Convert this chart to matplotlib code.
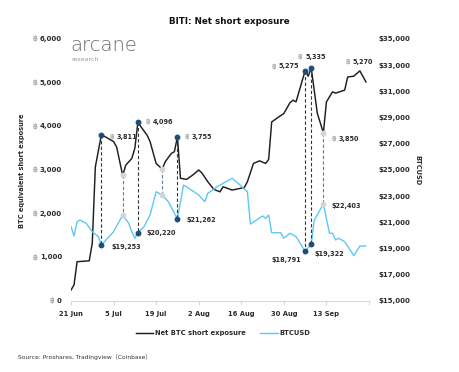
import matplotlib
matplotlib.use('Agg')
import matplotlib.pyplot as plt

# Net BTC short exposure (days after 21 Jun 2022, BTC)
short_days = [0, 1, 2, 6, 7, 8, 10, 14, 15, 17, 18, 20, 21, 22, 23, 25, 26, 28, 30, 31,
              33, 34, 35, 36, 38, 40, 42, 43, 45, 47, 49, 50, 53, 57, 58, 60, 62, 64, 65, 66,
              68, 70, 72, 73, 74, 77, 78, 79, 81, 83, 84, 86, 87, 90, 91, 93, 95, 97]
short_btc = [250, 370, 900, 920, 1330, 3070, 3811, 3650, 3530, 2875, 3110, 3265, 3500, 4096,
             3990, 3800, 3650, 3150, 3020, 3190, 3380, 3420, 3755, 2810, 2785, 2883, 3000, 2936,
             2730, 2556, 2500, 2616, 2540, 2600, 2730, 3150, 3210, 3150, 3242, 4100, 4200, 4295,
             4540, 4600, 4560, 5275, 5149, 5335, 4300, 3850, 4560, 4790, 4760, 4830, 5130, 5149,
             5270, 5016]

# BTCUSD price (same day offsets)
btc_days = [0, 1, 2, 3, 5, 7, 9, 10, 12, 14, 17, 19, 20, 21, 22, 24, 26, 28, 30, 32, 35, 37,
            38, 42, 44, 45, 48, 50, 53, 55, 58, 59, 61, 63, 64, 65, 66, 69, 70, 72, 74, 77, 79,
            80, 83, 85, 86, 87, 88, 90, 93, 95, 97]
btc_usd = [20670, 19960, 21050, 21180, 20930, 20290, 19910, 19253, 19790, 20290, 21560, 20930,
           20290, 19790, 20220, 20670, 21560, 23340, 23090, 22580, 21262, 23850, 23720, 23090,
           22580, 23220, 23720, 23980, 24370, 23980, 23340, 20880, 21180, 21490, 21310, 21560,
           20210, 20210, 19790, 20170, 19910, 18791, 19322, 21180, 22403, 20170, 20170, 19660,
           19790, 19530, 18460, 19200, 19200]

# highlighted pairs: day, short exposure, price, kind
pair_days = [10, 17, 22, 30, 35, 77, 79, 83]
pair_short = [3811, 2875, 4096, 3020, 3755, 5275, 5335, 3850]
pair_usd = [19253, 21560, 20220, 23090, 21262, 18791, 19322, 22403]
pair_dark = [True, False, True, False, True, True, True, False]

x_ticks = [0, 14, 28, 42, 56, 70, 84, 98]
x_labels = ['21 Jun', '5 Jul', '19 Jul', '2 Aug', '16 Aug', '30 Aug', '13 Sep', '']
left_ticks = [0, 1000, 2000, 3000, 4000, 5000, 6000]
right_ticks = [15000, 17000, 19000, 21000, 23000, 25000, 27000, 29000, 31000, 33000, 35000]

BLACK = '#1e1e1e'
BLUE = '#5ec8f2'
DARK = '#1c4e7a'
GREY = '#d2d6db'
TXT = '#2a2a2a'
BAHT = '#888888'

plt.rcParams['font.family'] = ['DejaVu Sans']

fig = plt.figure(figsize=(4.6, 3.72), dpi=100)
ax = fig.add_axes([71 / 460, 1 - 301 / 372, 298 / 460, 262 / 372])
ax2 = ax.twinx()

ax.plot(short_days, short_btc, color=BLACK, lw=1.05, label='Net BTC short exposure')
ax2.plot(btc_days, btc_usd, color=BLUE, lw=1.0, label='BTCUSD')

ax.set_xlim(0, 98)
ax.set_ylim(0, 6000)
ax2.set_ylim(15000, 35000)


def to_usd(v):
    # map a left-axis value onto the right axis scale
    lo, hi = ax.get_ylim()
    lo2, hi2 = ax2.get_ylim()
    return lo2 + (v - lo) / (hi - lo) * (hi2 - lo2)


for d, s, u, dark in zip(pair_days, pair_short, pair_usd, pair_dark):
    ls_col = '#333333' if dark else '#4f7fab'
    dot = DARK if dark else GREY
    ax2.plot([d, d], [to_usd(s), u], color=ls_col, lw=0.8, dashes=(3, 2), zorder=4)
    ax2.plot([d, d], [to_usd(s), u], 'o', color=dot, ms=3.2, zorder=5)


def label(target, x, y, num, dx, dy, ha='left', baht=False):
    t = target.annotate(num, xy=(x, y), xytext=(dx, dy), textcoords='offset points',
                        ha=ha, va='center', fontsize=4.7, fontweight='bold', color=TXT,
                        zorder=6)
    if baht:
        target.annotate('\u0e3f', xy=(0, 0.5), xycoords=t, xytext=(-2, 0),
                        textcoords='offset points', ha='right', va='center',
                        fontsize=5.2, color=BAHT, zorder=6)


label(ax, 10, 3811, '3,811', 11, -1.5, baht=True)
label(ax, 22, 4096, '4,096', 11, 0, baht=True)
label(ax, 35, 3755, '3,755', 10, 0, baht=True)
label(ax, 77, 5275, '5,275', -4.5, 3, ha='right', baht=True)
label(ax, 79, 5335, '5,335', 3, 8, ha='center', baht=True)
label(ax, 95, 5270, '5,270', 2, 6.5, ha='center', baht=True)
label(ax, 83, 3850, '3,850', 11, -4.5, baht=True)
label(ax2, 10, 19253, '$19,253', 7, -1, baht=False)
label(ax2, 22, 20220, '$20,220', 6.5, 0, baht=False)
label(ax2, 35, 21262, '$21,262', 6.5, -0.5, baht=False)
label(ax2, 83, 22403, '$22,403', 6, -1.5, baht=False)
label(ax2, 77, 18791, '$18,791', -3, -6.5, ha='right', baht=False)
label(ax2, 79, 19322, '$19,322', 2, -7, baht=False)

# axes styling
for a in (ax, ax2):
    for side in ('left', 'right', 'top'):
        a.spines[side].set_visible(False)
ax.spines['bottom'].set_color('#d9d9d9')
ax2.spines['bottom'].set_visible(False)

ax.set_xticks(x_ticks)
ax.set_xticklabels(x_labels, fontsize=4.9, fontweight='bold', color=TXT)
ax.tick_params(axis='x', length=3, color='#d9d9d9', pad=4)

ax.set_yticks(left_ticks)
ax.set_yticklabels([])
ax.tick_params(axis='y', length=0)
for t in left_ticks:
    n = ax.annotate(f'{t:,}', xy=(0, t), xycoords=ax.get_yaxis_transform(), xytext=(-6.5, 0),
                    textcoords='offset points', ha='right', va='center', fontsize=5,
                    fontweight='bold', color=TXT)
    ax.annotate('\u0e3f', xy=(0, 0.5), xycoords=n, xytext=(-2, 0), textcoords='offset points',
                ha='right', va='center', fontsize=5.5, color=BAHT)

ax2.set_yticks(right_ticks)
ax2.set_yticklabels([f'${t:,}' for t in right_ticks], fontsize=5, fontweight='bold', color=TXT)
ax2.tick_params(axis='y', length=0, pad=6.5)

fig.text(22 / 460, 1 - 171 / 372, 'BTC equivalent short exposure', rotation=90, ha='center',
         va='center', fontsize=4.8, fontweight='bold', color=TXT)
fig.text(417 / 460, 1 - 170 / 372, 'BTCUSD', rotation=270, ha='center', va='center',
         fontsize=4.8, fontweight='bold', color=TXT)

fig.text(229 / 460, 1 - 22 / 372, 'BITI: Net short exposure', ha='center', va='center',
         fontsize=6.3, fontweight='bold', color='#111111')

# logo
fig.text(70 / 460, 1 - 51 / 372, 'arcane', ha='left', va='baseline', fontsize=14,
         fontweight='light', color='#6b6b6b')
fig.text(71 / 460, 1 - 61 / 372, 'research', ha='left', va='baseline', fontsize=4.5,
         color='#9a9a9a')

h1, l1 = ax.get_legend_handles_labels()
h2, l2 = ax2.get_legend_handles_labels()
fig.legend(h1 + h2, l1 + l2, loc='center', bbox_to_anchor=(223 / 460, 1 - 333 / 372), ncol=2,
           frameon=False, prop={'size': 4.9, 'weight': 'bold'}, handlelength=2.6,
           handletextpad=0.2, columnspacing=2.2, labelcolor=TXT)

fig.text(18 / 460, 1 - 357 / 372, 'Source: Proshares, Tradingview\uff08Coinbase\uff09', ha='left',
         va='center', fontsize=4.3, color='#333333',
         family=['DejaVu Sans', 'Noto Sans CJK SC'])

fig.savefig('out.png', dpi=100)
